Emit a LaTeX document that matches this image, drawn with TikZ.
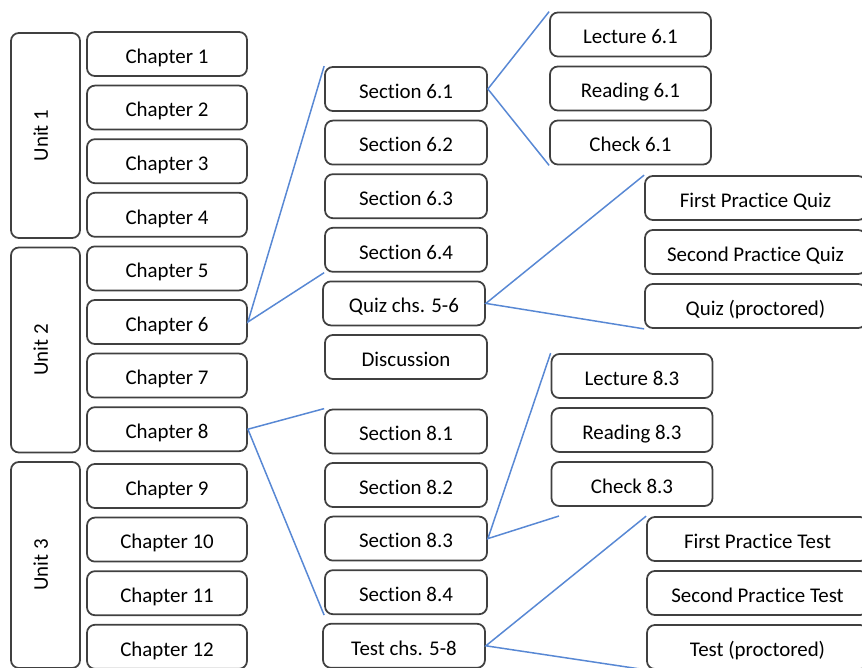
\documentclass[tikz,border=0pt]{standalone}
\usepackage{fontspec}
\setmainfont[Ligatures={NoCommon}]{Carlito}
\usepackage{tikz}
\definecolor{fanblue}{RGB}{88,136,212}

\begin{document}
\begin{tikzpicture}[
  box/.style={draw=black!75,line width=1pt,rounded corners=4.5pt,minimum height=0.880cm,inner sep=0pt,text height=2.8ex,text depth=0.6ex,font=\fontsize{11.9}{14}\selectfont},
  unitbox/.style={box,rotate=90,minimum width=4.100cm,minimum height=1.380cm,text height=1.2ex,text depth=0.65ex},
  chbox/.style={box,minimum width=3.200cm},
  secbox/.style={box,minimum width=3.240cm},
  partbox/.style={box,minimum width=3.220cm},
  quizbox/.style={box,minimum width=4.420cm},
  fan/.style={fanblue,line width=0.85pt}]
\useasboundingbox (0.000,0.000) rectangle (17.240,-13.340);
% units
\node[unitbox] (u1) at (0.910,-2.710) {Unit 1};
\node[unitbox] (u2) at (0.910,-7.000) {Unit 2};
\node[unitbox,minimum width=4.120cm] (u3) at (0.910,-11.300) {Unit 3};
% chapters
\node[chbox] (ch1) at (3.340,-1.080) {Chapter 1};
\node[chbox] (ch2) at (3.340,-2.152) {Chapter 2};
\node[chbox] (ch3) at (3.340,-3.224) {Chapter 3};
\node[chbox] (ch4) at (3.340,-4.296) {Chapter 4};
\node[chbox] (ch5) at (3.340,-5.368) {Chapter 5};
\node[chbox] (ch6) at (3.340,-6.440) {Chapter 6};
\node[chbox] (ch7) at (3.340,-7.512) {Chapter 7};
\node[chbox] (ch8) at (3.340,-8.584) {Chapter 8};
\node[chbox] (ch9) at (3.340,-9.720) {Chapter 9};
\node[chbox] (ch10) at (3.340,-10.792) {Chapter 10};
\node[chbox] (ch11) at (3.340,-11.864) {Chapter 11};
\node[chbox] (ch12) at (3.340,-12.936) {Chapter 12};
% sections of chapter 6
\node[secbox] (s61) at (8.120,-1.780) {Section 6.1};
\node[secbox] (s62) at (8.120,-2.852) {Section 6.2};
\node[secbox] (s63) at (8.120,-3.924) {Section 6.3};
\node[secbox] (s64) at (8.120,-4.996) {Section 6.4};
\node[secbox] (q56) at (8.080,-6.068) {Quiz chs. 5-6};
\node[secbox] (disc) at (8.120,-7.140) {Discussion};
% sections of chapter 8
\node[secbox] (s81) at (8.120,-8.630) {Section 8.1};
\node[secbox] (s82) at (8.120,-9.700) {Section 8.2};
\node[secbox] (s83) at (8.120,-10.772) {Section 8.3};
\node[secbox] (s84) at (8.120,-11.844) {Section 8.4};
\node[secbox] (t58) at (8.080,-12.916) {Test chs. 5-8};
% parts of section 6.1 and 8.3
\node[partbox] (l61) at (12.610,-0.690) {Lecture 6.1};
\node[partbox] (r61) at (12.610,-1.770) {Reading 6.1};
\node[partbox] (c61) at (12.610,-2.850) {Check 6.1};
\node[partbox] (l83) at (12.640,-7.520) {Lecture 8.3};
\node[partbox] (r83) at (12.640,-8.600) {Reading 8.3};
\node[partbox] (c83) at (12.640,-9.680) {Check 8.3};
% quizzes and tests
\node[quizbox] (fpq) at (15.110,-3.960) {First Practice Quiz};
\node[quizbox] (spq) at (15.110,-5.040) {Second Practice Quiz};
\node[quizbox] (qpr) at (15.110,-6.120) {Quiz (proctored)};
\node[quizbox] (fpt) at (15.150,-10.780) {First Practice Test};
\node[quizbox] (spt) at (15.150,-11.860) {Second Practice Test};
\node[quizbox] (tpr) at (15.150,-12.940) {Test (proctored)};
\coordinate (c83end) at (11.180,-10.320);
% fans
\draw[fan] (s61.north west) -- (ch6.east) -- (s64.south west);
\draw[fan] (l61.north west) -- (s61.east) -- (c61.south west);
\draw[fan] (fpq.north west) -- (q56.east) -- (qpr.south west);
\draw[fan] (s81.north west) -- (ch8.east) -- (s84.south west);
\draw[fan] (l83.north west) -- (s83.east) -- (c83end);
\draw[fan] (fpt.north west) -- (t58.east) -- (tpr.south west);
\end{tikzpicture}
\end{document}
